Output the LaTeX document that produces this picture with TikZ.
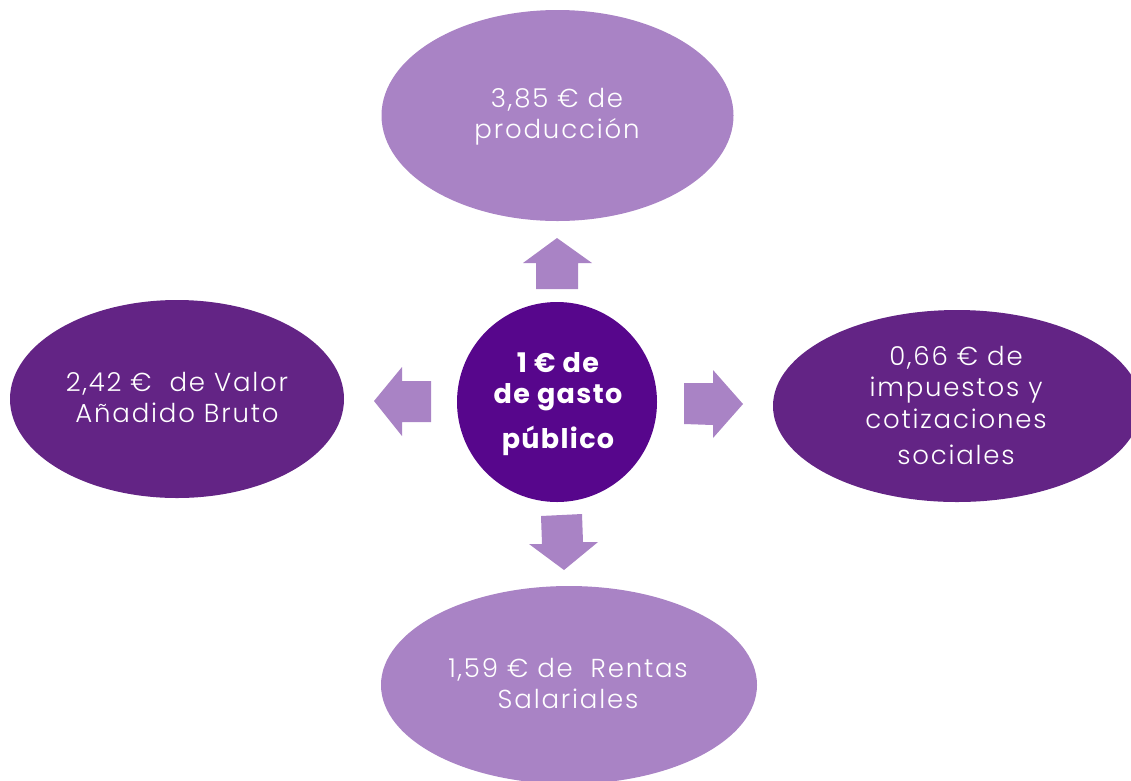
\documentclass[tikz,border=0pt]{standalone}
\usepackage{fontspec}
\setmainfont{Poppins}
\newfontfamily\lightfont{Poppins}[UprightFont=* Light, LetterSpace=7]
\newfontfamily\corefont{Poppins}[UprightFont=* Bold, LetterSpace=5]
\usetikzlibrary{shapes.geometric}
\definecolor{lightpurple}{HTML}{A983C5}
\definecolor{darkpurple}{HTML}{632485}
\definecolor{corepurple}{HTML}{57068C}
\tikzset{
  blob/.style={ellipse, inner sep=0pt, outer sep=0pt},
  lab/.style={text=white, anchor=base, inner sep=0pt, font=\lightfont\fontsize{26}{31.5}\selectfont},
  blockarrow/.style={fill=lightpurple, draw=none}
}
\begin{document}
\begin{tikzpicture}[x=1pt,y=-1pt]
\useasboundingbox (0,0) rectangle (1131,780);
\clip (0,0) rectangle (1131,780);
% ellipses
\node[blob, fill=lightpurple, minimum width=352pt, minimum height=211pt] (top) at (557.5,115.5) {};
\node[blob, fill=darkpurple, minimum width=334pt, minimum height=198pt] (left) at (177,399) {};
\node[blob, fill=darkpurple, minimum width=368pt, minimum height=192pt] (right) at (957,406) {};
\node[blob, fill=lightpurple, minimum width=376pt, minimum height=198pt] (bottom) at (569,685) {};
\node[circle, fill=corepurple, minimum size=200pt, inner sep=0pt, outer sep=0pt] (core) at (557,402) {};
% labels
\node[lab] (toplab) at (557,107) {\begin{tabular}[t]{@{}c@{}}3,85 € de\\ producción\end{tabular}};
\node[lab] (leftlab) at (177,391) {\begin{tabular}[t]{@{}c@{}}2,42 €~ de Valor\\ Añadido Bruto\end{tabular}};
\node[lab] (rightlab) at (956,365) {\begin{tabular}[t]{@{}c@{}}0,66 € de\\ impuestos y\\ cotizaciones\\[5pt] sociales\end{tabular}};
\node[lab] (bottomlab) at (568,677) {\begin{tabular}[t]{@{}c@{}}1,59 € de~ Rentas\\ Salariales\end{tabular}};
\node[text=white, anchor=base, inner sep=0pt, font=\corefont\fontsize{27}{31}\selectfont] (corelab) at (558,372) {\begin{tabular}[t]{@{}c@{}}1 € de\\ de gasto\\[14pt] público\end{tabular}};
% block arrows
\path[blockarrow] (523,263) -- (557,238) -- (592,263) -- (578,263) -- (578,289) -- (536,289) -- (536,263) -- cycle;
\path[blockarrow] (374,401) -- (402,367) -- (402,381) -- (431,381) -- (431,422) -- (402,422) -- (402,436) -- cycle;
\path[blockarrow] (743,404) -- (713,370) -- (713,383) -- (684,383) -- (684,424) -- (713,425) -- (713,438) -- cycle;
\path[blockarrow] (541,516) -- (582,514) -- (583,542) -- (598,542) -- (564,570) -- (529,544) -- (542,544) -- cycle;
\end{tikzpicture}
\end{document}
